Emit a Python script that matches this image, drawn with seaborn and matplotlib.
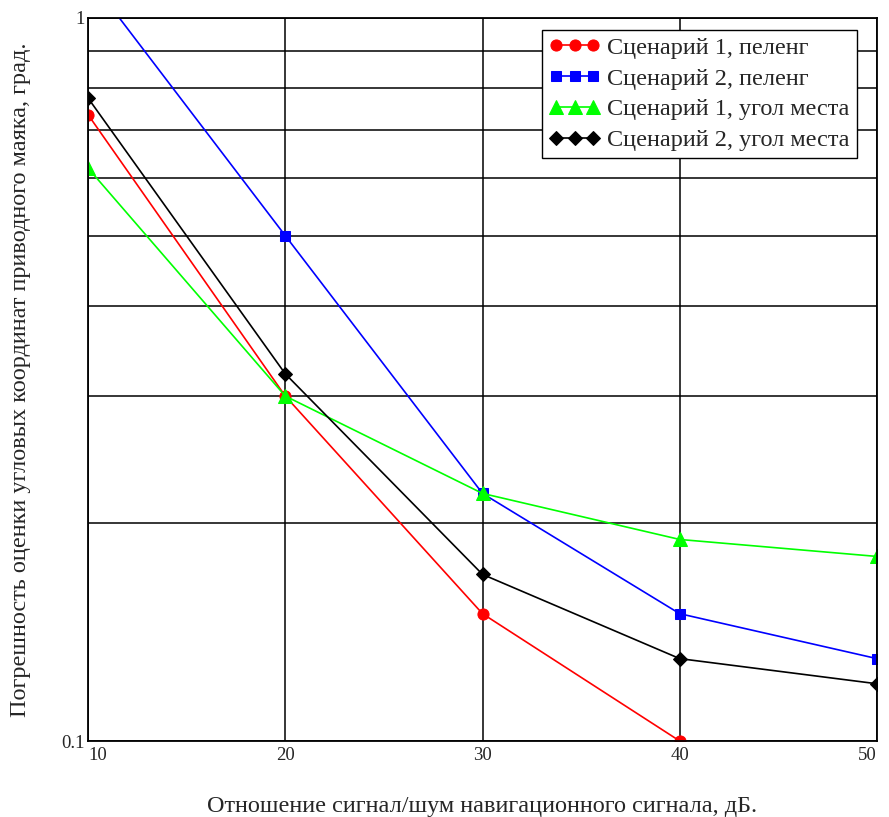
import matplotlib
matplotlib.use("Agg")
import matplotlib.pyplot as plt
import seaborn as sns
import pandas as pd
from matplotlib.ticker import FixedLocator, NullFormatter, FixedFormatter

snr_db = [10, 20, 30, 40, 50]
s1_bearing = [0.735, 0.30, 0.15, 0.10, None]
s2_bearing = [1.14, 0.50, 0.22, 0.15, 0.13]
s1_elev = [0.62, 0.30, 0.22, 0.19, 0.18]
s2_elev = [0.775, 0.322, 0.17, 0.13, 0.12]

labels = ["Сценарий 1, пеленг", "Сценарий 2, пеленг",
          "Сценарий 1, угол места", "Сценарий 2, угол места"]
series = [s1_bearing, s2_bearing, s1_elev, s2_elev]
colors = ["#ff0000", "#0000ff", "#00ff00", "#000000"]
markers = ["o", "s", "^", "D"]
msizes = [8, 7.5, 9.5, 7.5]

sns.set_style("white")
plt.rcParams["font.family"] = ["Liberation Serif", "DejaVu Serif"]

fig = plt.figure(figsize=(8.89, 8.17), dpi=100)
ax = fig.add_axes([0.099, 0.093, 0.8875, 0.885])

for lab, vals, c, m, ms in zip(labels, series, colors, markers, msizes):
    df = pd.DataFrame({"x": snr_db, "y": vals}).dropna()
    sns.lineplot(data=df, x="x", y="y", ax=ax, color=c, marker=m,
                 markersize=ms, markeredgecolor=c, linewidth=1.2, label=lab)

ax.set_yscale("log")
ax.set_xlim(10, 50)
ax.set_ylim(0.1, 1)
ax.set_xticks(snr_db)
ax.set_xticklabels([str(v) for v in snr_db])
ax.yaxis.set_major_locator(FixedLocator([0.1, 1]))
ax.yaxis.set_major_formatter(FixedFormatter(["0.1", "1"]))
ax.yaxis.set_minor_locator(FixedLocator([0.2, 0.3, 0.4, 0.5, 0.6, 0.7, 0.8, 0.9]))
ax.yaxis.set_minor_formatter(NullFormatter())

ax.grid(True, which="both", color="black", linewidth=1.1)
ax.tick_params(axis="both", which="both", length=0, labelsize=13.5)
ax.tick_params(axis="x", pad=4)
ax.tick_params(axis="y", pad=2)
for t in ax.get_xticklabels():
    t.set_horizontalalignment("left" if t.get_text() == "10" else ("right" if t.get_text() == "50" else "center"))
for sp in ax.spines.values():
    sp.set_color("black")
    sp.set_linewidth(1.3)

ax.set_xlabel("Отношение сигнал/шум навигационного сигнала, дБ.", fontsize=17.5, labelpad=23)
ax.set_ylabel("Погрешность оценки угловых координат приводного маяка, град.", fontsize=17.5, labelpad=22)

leg = ax.legend(loc="upper right", bbox_to_anchor=(0.975, 0.984), numpoints=3,
                fontsize=17.5, frameon=True,
                fancybox=False, edgecolor="black", framealpha=1,
                borderaxespad=0.0, handlelength=2.1, handletextpad=0.3,
                labelspacing=0.36, borderpad=0.3)
leg.get_frame().set_linewidth(1.0)

fig.savefig("out.png", dpi=100)
